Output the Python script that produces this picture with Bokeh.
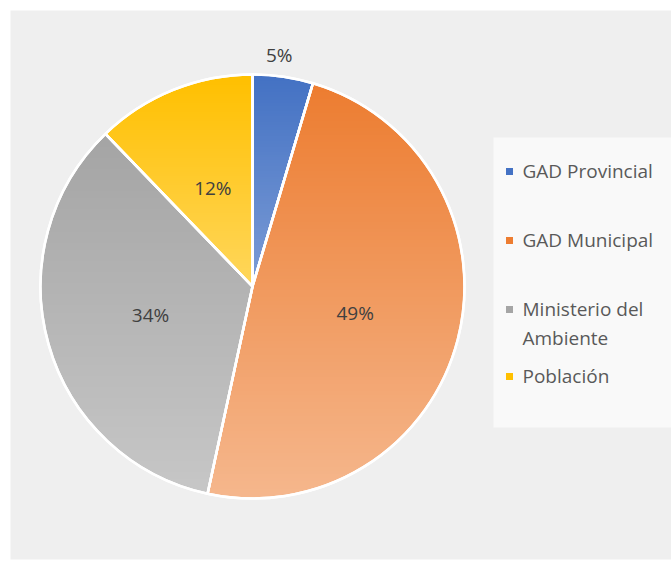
import numpy as np
from bokeh.plotting import figure
from bokeh.models import Range1d, ColumnDataSource
from bokeh.core.properties import value
from bokeh.embed import file_html
from bokeh.resources import INLINE

# ---- data ----
categories = ["GAD Provincial", "GAD Municipal", "Ministerio del\nAmbiente", "Población"]
shares = [4.6, 48.8, 34.4, 12.2]
colors = ["#4472c4", "#ed7d31", "#a5a5a5", "#ffc000"]

W, H = 671, 561
p = figure(width=W, height=H, x_range=Range1d(0, W), y_range=Range1d(0, H),
           min_border=0, toolbar_location=None, output_backend="svg")
p.axis.visible = False
p.grid.visible = False
p.outline_line_color = None
p.background_fill_color = "white"
p.border_fill_color = "white"

# chart area background
p.quad(left=10, right=W, bottom=2, top=H - 10, fill_color="#efefef", line_color=None)

# pie geometry
cx, cy, R = 252, 275, 212
total = sum(shares)
fr = np.array(shares) / total
cum = np.concatenate([[0], np.cumsum(fr)])
start = np.pi / 2 - 2 * np.pi * cum[:-1]
end = np.pi / 2 - 2 * np.pi * cum[1:]

src = ColumnDataSource(dict(start=list(start), end=list(end), color=colors, cat=categories))
p.wedge(x=cx, y=cy, radius=R, start_angle="start", end_angle="end", direction="clock",
        fill_color="color", line_color="white", line_width=2.5, source=src)

# per-slice vertical gradient (white overlay, lighter towards each slice's bottom)
amax = np.array([0.30, 0.45, 0.38, 0.36])
S = 2 * R + 4
x0, y0 = cx - R - 2, cy - R - 2
gx = np.arange(S) + x0 + 0.5
gy = np.arange(S) + y0 + 0.5
X, Y = np.meshgrid(gx, gy)
dx, dy = X - cx, Y - cy
dist = np.hypot(dx, dy)
f = (np.degrees(np.arctan2(dx, dy)) % 360) / 360
idx = np.clip(np.searchsorted(cum, f, side="right") - 1, 0, len(shares) - 1)
cov = np.clip(R - dist + 0.5, 0, 1)
alpha = np.zeros_like(dist)
for k in range(len(shares)):
    m = (idx == k) & (dist < R)
    if m.any():
        ytop, ybot = Y[m].max(), Y[m].min()
        t = np.clip((ytop - Y) / max(ytop - ybot, 1), 0, 1)
        alpha = np.where(idx == k, amax[k] * t, alpha)
alpha *= cov
img = np.zeros((S, S), dtype=np.uint32)
v = img.view(dtype=np.uint8).reshape((S, S, 4))
v[..., 0] = 255
v[..., 1] = 255
v[..., 2] = 255
v[..., 3] = (alpha * 255).astype(np.uint8)
p.image_rgba(image=[img], x=x0, y=y0, dw=S, dh=S)

# white separators on top
p.wedge(x=cx, y=cy, radius=R, start_angle="start", end_angle="end", direction="clock",
        fill_color=None, line_color="white", line_width=2.5, source=src)

# percentage labels
mid = (cum[:-1] + cum[1:]) / 2
lab_r = np.where(fr < 0.08, R + 22, R * 0.5)
lx = cx + lab_r * np.sin(2 * np.pi * mid)
ly = cy + lab_r * np.cos(2 * np.pi * mid)
lx = np.where(fr < 0.08, lx - 7, lx)
labels = [f"{round(s)}%" for s in shares]
p.text(x=list(lx), y=list(ly), text=labels, text_align="center", text_baseline="middle",
       text_font=value("Open Sans"), text_font_size="19px", text_color="#404040")

# legend
p.quad(left=493, right=W, bottom=H - 427, top=H - 137, fill_color="#f9f9f9", line_color=None)
rows = [171, 240, 309, 376]
ry = [H - r for r in rows]
p.scatter(x=[509] * 4, y=ry, marker="square", size=7, fill_color=colors, line_color=None)
p.text(x=[522] * 4, y=[y + 13.5 for y in ry], text=categories, text_align="left",
       text_baseline="top", text_font=value("Open Sans"), text_font_size="19px",
       text_color="#595959", text_line_height=1.1)

open("out.html", "w").write(file_html(p, INLINE))
